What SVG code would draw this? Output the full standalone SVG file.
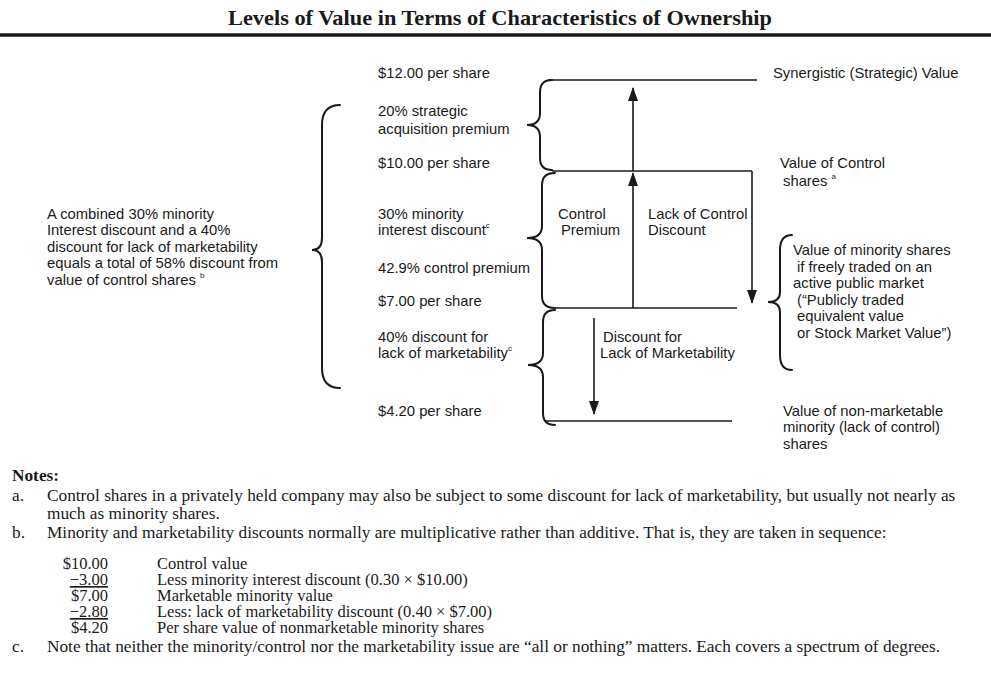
<svg xmlns="http://www.w3.org/2000/svg" width="991" height="696" viewBox="0 0 991 696">
<style>
.t{font-family:"Liberation Serif","Times New Roman",serif;fill:#1a1a1a}
.s{font-family:"Liberation Sans",Arial,sans-serif;font-size:14.8px;fill:#1a1a1a}
.n{font-family:"Liberation Serif","Times New Roman",serif;font-size:17.3px;fill:#1a1a1a}
.m{font-family:"Liberation Serif","Times New Roman",serif;font-size:16.5px;fill:#1a1a1a}
.ln{stroke:#1a1a1a;stroke-width:1.6;fill:none}
.br{stroke:#1a1a1a;stroke-width:2;fill:none;stroke-linecap:round}
.ar{stroke:#1a1a1a;stroke-width:1.6;fill:none;marker-end:url(#ah)}
.sup{font-size:8px}
</style>
<defs>
<marker id="ah" viewBox="0 0 14 10" refX="13" refY="5" markerWidth="14" markerHeight="10" markerUnits="userSpaceOnUse" orient="auto">
<path d="M0,0 L14,5 L0,10 z" fill="#1a1a1a"/>
</marker>
</defs>
<rect width="991" height="696" fill="#fff"/>

<g id="title">
<text class="t" x="500" y="25" font-size="21" font-weight="bold" text-anchor="middle" textLength="544" lengthAdjust="spacingAndGlyphs">Levels of Value in Terms of Characteristics of Ownership</text>
<line x1="0" y1="35" x2="991" y2="35" stroke="#1a1a1a" stroke-width="3.5"/>
</g>

<g id="connectors">
<path class="ln" d="M548,80 H757"/>
<path class="ln" d="M552,171 H752"/>
<path class="ln" d="M555,308 H737"/>
<path class="ln" d="M545,421 H732"/>
<path class="ar" d="M633,171 V88"/>
<path class="ar" d="M633,308 V173"/>
<path class="ar" d="M752,171 V303"/>
<path class="ar" d="M594,318 V414"/>
</g>

<g id="braces">
<path class="br" d="M552,80 Q540,80 540,92 L540,113 Q540,125 527,125 Q540,125 540,137 L540,158 Q540,170 552,170"/>
<path class="br" d="M555,173 Q542,173 542,185 L542,226 Q542,238 527,238 Q542,238 542,250 L542,296 Q542,308 555,308"/>
<path class="br" d="M555,310 Q543,310 543,322 L543,353 Q543,365 528,365 Q543,365 543,377 L543,413 Q543,425 555,425"/>
<path class="br" d="M340,105 Q322,105 322,125 L322,238 Q322,250 312,250 Q322,250 322,262 L322,368 Q322,388 340,388"/>
<path class="br" d="M792,235 Q780,235 780,250 L780,292 Q780,302 768,302 Q780,302 780,312 L780,355 Q780,370 792,370"/>
</g>

<g id="level-labels">
<text class="s" x="378" y="78">$12.00 per share</text>
<text class="s" x="378" y="116">20% strategic</text>
<text class="s" x="378" y="134">acquisition premium</text>
<text class="s" x="378" y="168">$10.00 per share</text>
<text class="s" x="378" y="219">30% minority</text>
<text class="s" x="378" y="235">interest discount<tspan class="sup" dy="-7">c</tspan></text>
<text class="s" x="378" y="273">42.9% control premium</text>
<text class="s" x="378" y="306">$7.00 per share</text>
<text class="s" x="378" y="342">40% discount for</text>
<text class="s" x="378" y="358">lack of marketability<tspan class="sup" dy="-7">c</tspan></text>
<text class="s" x="378" y="416">$4.20 per share</text>
</g>

<g id="middle-labels">
<text class="s" x="558" y="219">Control</text>
<text class="s" x="561" y="235">Premium</text>
<text class="s" x="648" y="219">Lack of Control</text>
<text class="s" x="648" y="235">Discount</text>
<text class="s" x="603" y="342">Discount for</text>
<text class="s" x="600" y="358">Lack of Marketability</text>
</g>

<g id="right-labels">
<text class="s" x="773" y="78">Synergistic (Strategic) Value</text>
<text class="s" x="780" y="168">Value of Control</text>
<text class="s" x="783" y="186">shares <tspan class="sup" dy="-7">a</tspan></text>
<text class="s" x="793" y="255">Value of minority shares</text>
<text class="s" x="797" y="272">if freely traded on an</text>
<text class="s" x="793" y="288">active public market</text>
<text class="s" x="797" y="305">(“Publicly traded</text>
<text class="s" x="797" y="321">equivalent value</text>
<text class="s" x="797" y="338">or Stock Market Value”)</text>
<text class="s" x="783" y="416">Value of non-marketable</text>
<text class="s" x="783" y="432">minority (lack of control)</text>
<text class="s" x="783" y="449">shares</text>
</g>

<g id="left-label">
<text class="s" x="47" y="219">A combined 30% minority</text>
<text class="s" x="47" y="235">Interest discount and a 40%</text>
<text class="s" x="47" y="252">discount for lack of marketability</text>
<text class="s" x="47" y="268">equals a total of 58% discount from</text>
<text class="s" x="47" y="285">value of control shares <tspan class="sup" dy="-7">b</tspan></text>
</g>

<g id="notes">
<text class="n" x="12" y="481" font-weight="bold">Notes:</text>
<text class="n" x="12" y="501">a.</text>
<text class="n" x="47" y="501">Control shares in a privately held company may also be subject to some discount for lack of marketability, but usually not nearly as</text>
<text class="n" x="47" y="519">much as minority shares.</text>
<text class="n" x="12" y="538">b.</text>
<text class="n" x="47" y="538">Minority and marketability discounts normally are multiplicative rather than additive. That is, they are taken in sequence:</text>
<text class="m" x="108" y="569" text-anchor="end">$10.00</text>
<text class="m" x="157" y="569">Control value</text>
<text class="m" x="108" y="585" text-anchor="end" text-decoration="underline">−3.00</text>
<text class="m" x="157" y="585">Less minority interest discount (0.30 × $10.00)</text>
<text class="m" x="108" y="601" text-anchor="end">$7.00</text>
<text class="m" x="157" y="601">Marketable minority value</text>
<text class="m" x="108" y="617" text-anchor="end" text-decoration="underline">−2.80</text>
<text class="m" x="157" y="617">Less: lack of marketability discount (0.40 × $7.00)</text>
<text class="m" x="108" y="633" text-anchor="end">$4.20</text>
<text class="m" x="157" y="633">Per share value of nonmarketable minority shares</text>
<text class="n" x="12" y="652">c.</text>
<text class="n" x="47" y="652">Note that neither the minority/control nor the marketability issue are “all or nothing” matters. Each covers a spectrum of degrees.</text>
</g>
</svg>
